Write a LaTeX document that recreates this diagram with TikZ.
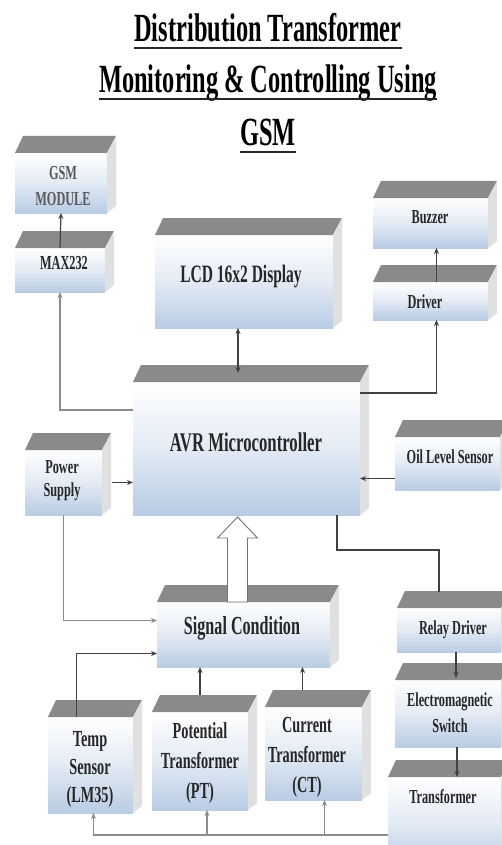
\documentclass[tikz,border=0pt]{standalone}
\usepackage{fontspec}
\setmainfont{Liberation Serif}
\usetikzlibrary{arrows.meta}
\definecolor{topgray}{RGB}{138,138,138}
\definecolor{sidegray}{RGB}{224,224,224}
\definecolor{frontblue}{RGB}{184,204,228}
\newcommand\sq[1]{\scalebox{0.62}[1]{#1}}

\begin{document}
\begin{tikzpicture}[x=1pt, y=-1pt,
  blk/.style={inner sep=0, outer sep=0, anchor=north west, top color=white, bottom color=frontblue, middle color=white!60!frontblue},
  topf/.style={fill=topgray},
  sidef/.style={fill=sidegray},
  lbs/.style={inner sep=0, align=center, text=black!85, font=\fontsize{19.8}{26}\selectfont\bfseries},
  lbm/.style={lbs, font=\fontsize{23}{30}\selectfont\bfseries},
  lbl/.style={lbs, font=\fontsize{26}{30}\selectfont\bfseries},
  ttl/.style={inner sep=0, anchor=base, font=\fontsize{40}{40}\selectfont\bfseries},
  uline/.style={line width=2pt, black!85},
  ln/.style={line width=1.2pt, black!75},
  lg/.style={line width=1.2pt, black!45},
  arr/.style={-{Stealth[length=6pt, width=5pt]}},
  hollow/.style={draw=black!55, fill=white, line width=0.9pt}]
  \fill[white] (0,0) rectangle (501,845);
  \useasboundingbox (0,0) rectangle (501,845);

  % title
  \node[ttl] (t1) at (268,42) {\scalebox{0.61}[1]{Distribution Transformer}};
  \node[ttl] (t2) at (268,93) {\scalebox{0.61}[1]{Monitoring \& Controlling Using}};
  \node[ttl] (t3) at (268,146) {\scalebox{0.61}[1]{GSM}};
  \foreach \t in {t1,t2,t3}
    \draw[uline] ([yshift=-6pt]\t.base west) -- ([yshift=-6pt]\t.base east);

  % blocks (front faces)
  \node[blk, minimum width=92pt, minimum height=60pt] (gsm) at (15,153) {};
  \node[blk, minimum width=90pt, minimum height=44pt] (max) at (15,248) {};
  \node[blk, minimum width=178pt, minimum height=93pt] (lcd) at (155,235) {};
  \node[blk, minimum width=115pt, minimum height=50pt] (buz) at (373,198) {};
  \node[blk, minimum width=115pt, minimum height=38pt] (drv) at (373,282) {};
  \node[blk, minimum width=227pt, minimum height=133pt] (avr) at (133,382) {};
  \node[blk, minimum width=77pt, minimum height=65pt] (pwr) at (25,450) {};
  \node[blk, minimum width=105pt, minimum height=53pt] (oil) at (395,437) {};
  \node[blk, minimum width=173pt, minimum height=65pt] (sig) at (157,602) {};
  \node[blk, minimum width=85pt, minimum height=96pt] (tmp) at (48,717) {};
  \node[blk, minimum width=96pt, minimum height=98pt] (ptr) at (152,712) {};
  \node[blk, minimum width=97pt, minimum height=93pt] (ctr) at (265,707) {};
  \node[blk, minimum width=104pt, minimum height=44pt] (rel) at (397,608) {};
  \node[blk, minimum width=106pt, minimum height=67pt] (ele) at (395,680) {};
  \node[blk, minimum width=113pt, minimum height=90pt] (trf) at (388,777) {};

  % top and side faces
  \foreach \b in {gsm,max,lcd,buz,drv,avr,pwr,oil,sig,tmp,ptr,ctr,rel,ele,trf}{
    \fill[topf] (\b.north west) -- ++(8,-17) -- ([shift={(9,-17)}]\b.north east) -- (\b.north east) -- cycle;
    \fill[sidef] (\b.north east) -- ++(9,-17) -- ([shift={(9,-7)}]\b.south east) -- (\b.south east) -- cycle;
  }

  % labels
  \node[lbs, text=black!65] (gsm-t) at (63,186) {\sq{GSM}\\\sq{MODULE}};
  \node[lbs] (max-t) at (64,263) {\sq{MAX232}};
  \node[lbl, font=\fontsize{25}{30}\selectfont\bfseries] (lcd-t) at (241,277) {\sq{LCD 16x2 Display}};
  \node[lbs] (buz-t) at (430,217) {\sq{Buzzer}};
  \node[lbs] (drv-t) at (425,302) {\sq{Driver}};
  \node[lbl, font=\fontsize{27}{30}\selectfont\bfseries] (avr-t) at (246,442) {\sq{AVR Microcontroller}};
  \node[lbs, font=\fontsize{19.8}{23}\selectfont\bfseries] (pwr-t) at (62,481) {\sq{Power}\\\sq{Supply}};
  \node[lbs] (oil-t) at (450,457) {\sq{Oil Level Sensor}};
  \node[lbl] (sig-t) at (242,628) {\sq{Signal Condition}};
  \node[lbm, font=\fontsize{23}{28}\selectfont\bfseries] (tmp-t) at (90,769) {\sq{Temp}\\\sq{Sensor}\\\sq{(LM35)}};
  \node[lbm] (ptr-t) at (200,763) {\sq{Potential}\\\sq{Transformer}\\\sq{(PT)}};
  \node[lbm] (ctr-t) at (307,757) {\sq{Current}\\\sq{Transformer}\\\sq{(CT)}};
  \node[lbs] (rel-t) at (453,630) {\sq{Relay Driver}};
  \node[lbs] (ele-t) at (450,713) {\sq{Electromagnetic}\\\sq{Switch}};
  \node[lbs] (trf-t) at (443,797) {\sq{Transformer}};

  % connections
  \draw[ln, arr] (max.north) -- (gsm.south);
  \draw[lg, arr] ([yshift=-28pt]avr.north west) -| (max.south);
  \coordinate (avrtop) at ([yshift=9pt]avr.north);
  \draw[ln, {Stealth[length=6pt, width=5pt]}-{Stealth[length=6pt, width=5pt]}] ([xshift=-6pt]lcd.south) -- ([xshift=-6pt]lcd.south |- avrtop);
  \draw[ln, arr] ([xshift=6pt]drv.north) -- ([xshift=6pt]buz.south);
  \draw[ln, arr] ([yshift=-11pt]avr.north east) -| ([xshift=6pt]drv.south);
  \draw[ln, arr] ([xshift=10pt]pwr.east) -- (pwr.east -| avr.west);
  \draw[ln, arr] ([yshift=-15pt]oil.west) -- ([yshift=-15pt]oil.west -| avr.east);
  \coordinate (bb) at ([xshift=-6pt]sig.north);
  \draw[hollow] (bb) ++(-10,0) -- ++(0,-64) -- ++(-10,0) -- ++(20,-21) -- ++(20,21) -- ++(-10,0) -- ++(0,64) -- cycle;
  \draw[ln] ([xshift=-23pt]avr.south east) |- ([xshift=-10pt, yshift=-35pt]avr.south east -| rel.north) -- ([xshift=-10pt, yshift=16pt]rel.north);
  \draw[lg, arr] (pwr.south) |- ([yshift=14pt]sig.west);
  \draw[ln, arr] ([xshift=-14pt]tmp.north) |- ([yshift=-19pt]sig.west);
  \draw[ln, arr] ([yshift=17pt]ptr.north) -- (ptr.north |- sig.south);
  \draw[ln, arr] ([xshift=-11pt, yshift=17pt]ctr.north) -- ([xshift=-11pt]ctr.north |- sig.south);
  \draw[ln, arr] ([xshift=7pt]rel.south) -- ([xshift=7pt, yshift=2pt]rel.south |- ele.north);
  \draw[ln, arr] ([xshift=9pt]ele.south) -- ([xshift=9pt]ele.south |- trf.north);
  \coordinate (bus) at ([yshift=-58pt]trf.north west);
  \draw[lg, arr] (bus) -| ([xshift=3pt]tmp.south);
  \draw[lg, arr] (bus) -| ([xshift=7pt]ptr.south);
  \draw[lg, arr] (bus) -| ([xshift=11pt]ctr.south);
\end{tikzpicture}
\end{document}
